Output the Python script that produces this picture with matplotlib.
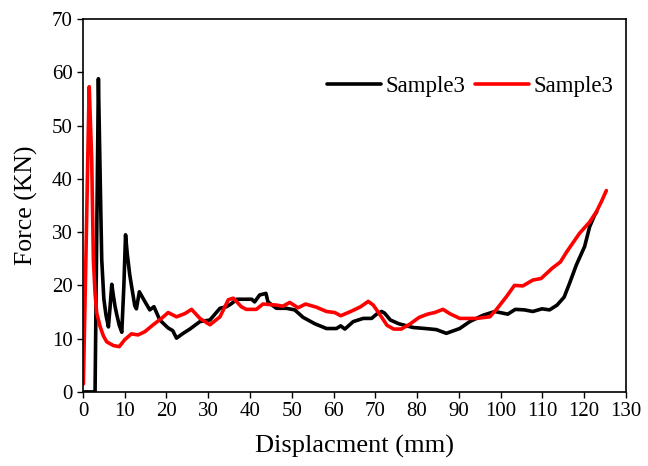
# Force vs displacement chart for Sample3 (two runs)
import matplotlib.pyplot as plt
import numpy as np

plt.rcParams['font.family'] = ['Liberation Serif', 'DejaVu Serif']

# black run
black_x = [0, 2.9, 3.7, 4.2, 4.5, 5.0, 5.5, 6.1, 6.5, 6.9, 7.3, 7.7, 8.1, 8.7,
           9.3, 9.8, 10.2, 10.6, 11.2, 12.4, 12.8, 13.5, 14.8, 16.0, 17.0, 18.4,
           20.4, 21.5, 22.4, 24.0, 25.6, 28.0, 30.4, 32.8, 34.4, 35.6, 36.8,
           40.4, 41.1, 42.3, 43.8, 44.3, 46.3, 48.7, 50.7, 52.7, 55.5, 58.3,
           60.7, 61.7, 62.7, 64.7, 67.1, 69.1, 70.3, 71.5, 72.2, 73.6, 75.6,
           79.0, 82.0, 84.6, 87.0, 90.2, 92.6, 95.8, 98.6, 101.7, 103.5, 105.7,
           107.7, 109.9, 111.7, 113.5, 115.2, 116.5, 118.1, 120.1, 121.3, 122.5,
           123.0]
black_y = [0, 0, 58.8, 37, 24.8, 17.5, 14.5, 12.2, 16, 20.2, 18, 16, 14.5, 12.5,
           11.2, 20, 29.5, 26, 22, 16.2, 15.6, 18.8, 17, 15.4, 16, 13.5,
           12, 11.5, 10.1, 11, 11.8, 13.2, 13.5, 15.7, 16, 16.6, 17.4,
           17.4, 16.9, 18.2, 18.5, 16.9, 15.7, 15.7, 15.4, 14.0, 12.8, 11.9,
           11.9, 12.4, 11.8, 13.2, 13.8, 13.8, 14.6, 15.1, 14.8, 13.5, 12.8,
           12.1, 11.9, 11.7, 11.0, 11.9, 13.2, 14.4, 15.1, 14.6, 15.5, 15.4,
           15.1, 15.6, 15.4, 16.3, 17.8, 20.4, 23.8, 27.3, 31, 33.2,
           33.8]

# red run
red_x = [0.1, 0.7, 1.3, 1.5, 2.1, 2.5, 2.9, 3.3, 4.1, 4.9, 5.7, 7.3, 8.7, 10.0,
         11.6, 13.2, 14.8, 16.8, 18.8, 20.4, 22.4, 24.4, 26.0, 28.0, 30.4, 32.8,
         34.8, 36.0, 37.9, 39.1, 41.5, 43.1, 46.3, 47.9, 49.5, 51.5, 53.3, 55.9,
         58.3, 60.3, 61.7, 64.1, 66.5, 68.3, 69.5, 71.1, 72.8, 74.4, 76.2, 78.2,
         80.5, 82.5, 84.2, 86.2, 87.8, 90.2, 94.2, 97.4, 98.9, 101.4, 103.3,
         105.3, 107.7, 109.7, 112.3, 114.3, 115.9, 118.9, 121.3, 122.9, 124.1,
         125.3]
red_y = [1.5, 24.8, 49.8, 57.3, 43.5, 24.8, 18.5, 14.8, 12.3, 10.5, 9.4, 8.7, 8.5, 9.8,
         10.9, 10.7, 11.3, 12.6, 13.8, 14.9, 14.1, 14.7, 15.5, 13.8, 12.6, 14.1,
         17.3, 17.6, 16.0, 15.5, 15.5, 16.5, 16.3, 16.1, 16.8, 15.8, 16.5, 15.9,
         15.1, 14.9, 14.3, 15.1, 16.0, 17.0, 16.3, 14.5, 12.5, 11.8, 11.8, 12.7,
         14.0, 14.6, 14.9, 15.5, 14.7, 13.8, 13.8, 14.1, 15.4, 17.9, 20.0,
         19.9, 21.0, 21.3, 23.2, 24.4, 26.4, 29.8, 31.9, 33.8, 35.7,
         37.8]

x_ticks = np.arange(0, 131, 10)
y_ticks = np.arange(0, 71, 10)

fig = plt.figure(figsize=(6.48, 4.66), dpi=100)
ax = fig.add_axes([0.128, 0.159, 0.838, 0.800])

ax.plot(black_x, black_y, color='black', lw=2.6, label='Sample3',
        solid_joinstyle='round', solid_capstyle='round')
ax.plot(red_x, red_y, color='red', lw=2.6, label='Sample3',
        solid_joinstyle='round', solid_capstyle='round')

ax.set_xlim(0, 130)
ax.set_ylim(0, 70)
ax.set_xticks(x_ticks)
ax.set_yticks(y_ticks)
ax.tick_params(direction='out', length=4, width=1, labelsize=15,
               top=False, right=False)
for s in ax.spines.values():
    s.set_linewidth(1.2)

ax.set_xlabel('Displacment (mm)', fontsize=19, labelpad=10)
ax.set_ylabel('Force (KN)', fontsize=18.5, labelpad=10)

ax.legend(loc='center left', bbox_to_anchor=(0.45, 0.818), ncol=2,
          frameon=False, fontsize=16.5, handlelength=2.35, handletextpad=0.2,
          columnspacing=0.4, borderpad=0, borderaxespad=0)

fig.savefig('out.png', dpi=100)
